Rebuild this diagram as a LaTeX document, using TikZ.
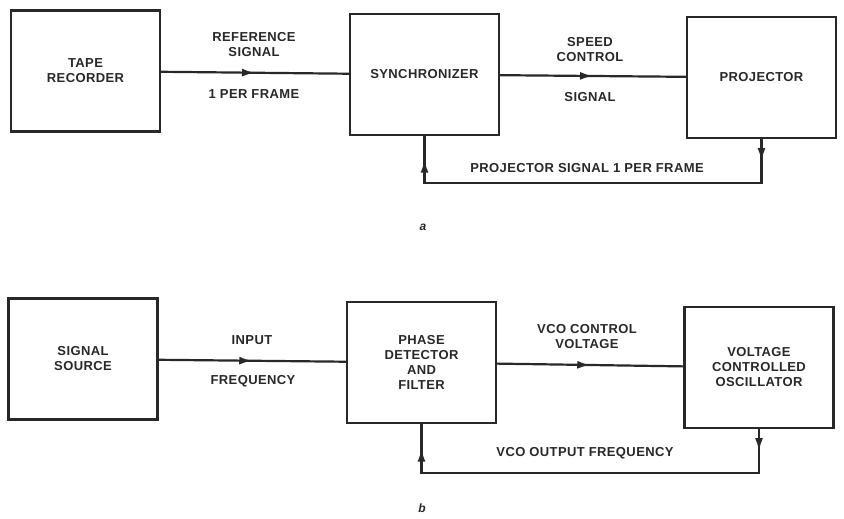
\documentclass[tikz,border=0pt]{standalone}
\usepackage{fontspec}
\setmainfont{Liberation Sans}
\newfontfamily\blockfont[LetterSpace=3, UprightFont={Liberation Sans Bold}]{Liberation Sans}
\usetikzlibrary{arrows.meta, decorations.markings}
\definecolor{inkgray}{RGB}{40,40,40}

\tikzset{
	block/.style={draw=inkgray, line width=2.6pt, minimum width=149pt, minimum height=121pt,
		inner sep=0pt, align=center, text=inkgray, font=\blockfont\fontsize{13}{15}\selectfont},
	wire/.style={draw=inkgray, line width=2.2pt, line cap=rect},
	midarrow/.style={wire, decoration={markings,
			mark=at position 0.5 with {\arrow[inkgray]{Latex[length=13pt,width=8pt]}}},
		postaction={decorate}},
	lbl/.style={align=center, text=inkgray, inner sep=0pt, font=\blockfont\fontsize{13}{15}\selectfont},
	tag/.style={text=inkgray, font=\bfseries\itshape\fontsize{12}{14}\selectfont}
}

\begin{document}
\begin{tikzpicture}[x=1pt, y=-1pt]
	\useasboundingbox (0,0) rectangle (844,519);

	% a
	\node[block] (tape) at (85.5,71)   {TAPE\\RECORDER};
	\node[block] (sync) at (424.5,74.5) {SYNCHRONIZER};
	\node[block] (proj) at (761.5,77.5) {PROJECTOR};
	\draw[midarrow] (tape) -- (sync);
	\draw[midarrow] (sync) -- (proj);
	\node[lbl] (refsig) at (254,45) {REFERENCE\\SIGNAL};
	\node[lbl] (perframe) at (254,94) {1 PER FRAME};
	\node[lbl] (speedctl) at (590,50) {SPEED\\CONTROL};
	\node[lbl] (speedsig) at (590,97) {SIGNAL};
	\coordinate (loopa) at (0,183);
	\draw[midarrow] (proj.south) -- (proj.south |- loopa);
	\draw[wire] (proj.south |- loopa) -- (sync.south |- loopa);
	\draw[midarrow] (sync.south |- loopa) -- (sync.south);
	\node[lbl] (projsig) at (587,168) {PROJECTOR SIGNAL 1 PER FRAME};
	\node[tag] (taga) at (423,227) {a};

	% b
	\node[block] (src) at (83,359)    {SIGNAL\\SOURCE};
	\node[block] (pd)  at (421.5,362.5) {PHASE\\DETECTOR\\AND\\FILTER};
	\node[block] (vco) at (759,367.5) {VOLTAGE\\CONTROLLED\\OSCILLATOR};
	\draw[midarrow] (src) -- (pd);
	\draw[midarrow] (pd) -- (vco);
	\node[lbl] (input) at (252,340) {INPUT};
	\node[lbl] (freq) at (253,381) {FREQUENCY};
	\node[lbl] (vcoctl) at (587,337) {VCO CONTROL\\VOLTAGE};
	\coordinate (loopb) at (0,473);
	\draw[midarrow] (vco.south) -- (vco.south |- loopb);
	\draw[wire] (vco.south |- loopb) -- (pd.south |- loopb);
	\draw[midarrow] (pd.south |- loopb) -- (pd.south);
	\node[lbl] (vcoout) at (585,453) {VCO OUTPUT FREQUENCY};
	\node[tag] (tagb) at (422,508) {b};
\end{tikzpicture}
\end{document}
